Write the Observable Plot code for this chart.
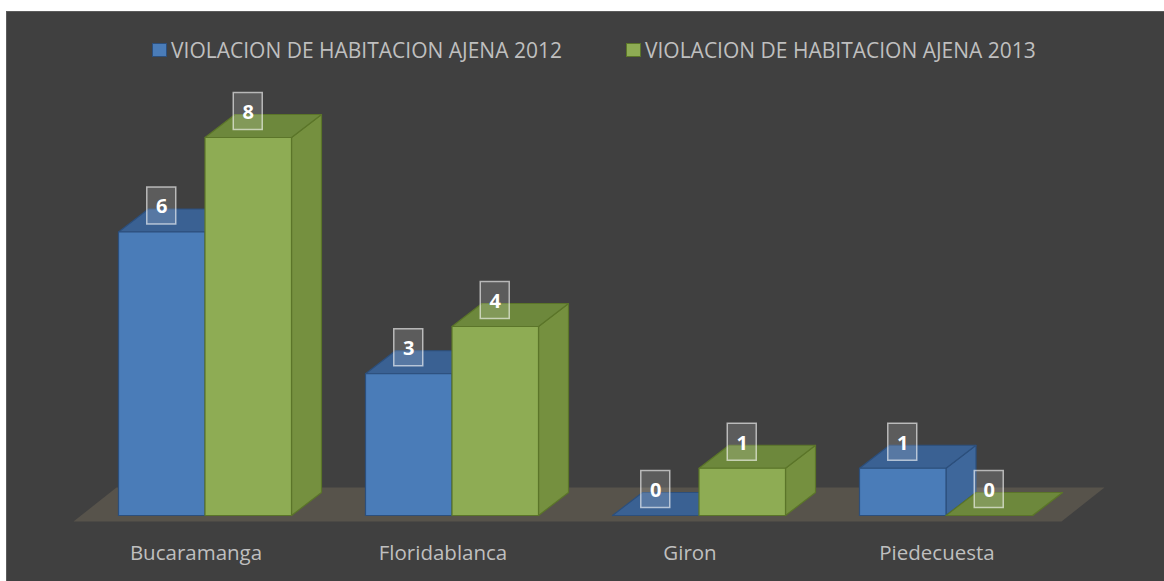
<!DOCTYPE html>
<html><head><meta charset="utf-8">
<script src="https://cdn.jsdelivr.net/npm/d3@7"></script>
<script src="https://cdn.jsdelivr.net/npm/@observablehq/plot@0.6"></script>
<style>
body{margin:0;background:#fff;}
#wrap{position:relative;width:1164px;height:581px;overflow:hidden;font-family:"Open Sans",sans-serif;}
#bg{position:absolute;left:6px;top:11px;width:1170px;height:600px;background:#404040;border:1px solid #5c5c5c;}
#chart{position:absolute;left:0;top:0;}
#legend{position:absolute;left:152px;top:36px;display:flex;gap:64px;color:#bfbfbf;font-size:21px;line-height:28px;white-space:nowrap;}
.item{display:flex;align-items:center;}
.sw{display:inline-block;width:13px;height:12px;margin-right:4px;border:1px solid;}
</style></head>
<body><div id="wrap"><div id="bg"></div><div id="chart"></div><div id="legend"></div></div>
<script>
const categories = ["Bucaramanga", "Floridablanca", "Giron", "Piedecuesta"];
const seriesNames = ["VIOLACION DE HABITACION AJENA 2012", "VIOLACION DE HABITACION AJENA 2013"];
const values2012 = [6, 3, 0, 1];
const values2013 = [8, 4, 1, 0];

// layout constants (pixels)
const W = 1164, H = 581;
const xStart = 204.5, step = 247;          // pixel centre of first category, category step
const yBase = 515, pxPerUnit = 47.25;       // y pixel of value 0, pixels per unit
const ux = 1 / step, uy = 1 / pxPerUnit;     // one pixel in data units
const barW = 86.5 * ux, depX = 30 * ux, depY = 23 * uy;

const colors = [
  {front: "#4a7cb8", top: "#3a6193", side: "#3e679b", stroke: "#2c4f7c"},
  {front: "#8eac54", top: "#6d883c", side: "#75903f", stroke: "#5b7529"}
];

const series = [values2012, values2013];
const faces = {front: [[], []], top: [[], []], side: [[], []]};
const labels = [];
series.forEach((vals, s) => {
  vals.forEach((h, i) => {
    const L = i - barW + s * barW, R = L + barW, id = `${s}-${i}`;
    const poly = (arr, pts) => pts.concat([pts[0]]).forEach(([x, y]) => arr.push({id, x, y}));
    poly(faces.side[s], [[R, 0], [R + depX, depY], [R + depX, h + depY], [R, h]]);
    poly(faces.top[s], [[L, h], [R, h], [R + depX, h + depY], [L + depX, h + depY]]);
    poly(faces.front[s], [[L, 0], [R, 0], [R, h], [L, h]]);
    labels.push({x: (L + R) / 2, y: h + depY + 3 * uy, value: h});
  });
});

const floorL = (73 - xStart) * ux, floorR = (1061 - xStart) * ux;
const floorFront = (yBase - 521) * uy, floorDX = 43 * ux, floorDY = 34 * uy;
const floor = [[floorL, floorFront], [floorR, floorFront], [floorR + floorDX, floorFront + floorDY], [floorL + floorDX, floorFront + floorDY]].map(([x, y]) => ({x, y}));

const catData = categories.map((name, i) => ({name, i}));

const marks = [Plot.line(floor, {x: "x", y: "y", fill: "#57534b", stroke: "none"})];
[0, 1].forEach(s => {
  const c = colors[s];
  marks.push(Plot.line(faces.side[s], {x: "x", y: "y", z: "id", fill: c.side, stroke: c.stroke, strokeWidth: 1.2, strokeLinejoin: "round"}));
  marks.push(Plot.line(faces.top[s], {x: "x", y: "y", z: "id", fill: c.top, stroke: c.stroke, strokeWidth: 1.2, strokeLinejoin: "round"}));
  marks.push(Plot.line(faces.front[s], {x: "x", y: "y", z: "id", fill: c.front, stroke: c.stroke, strokeWidth: 1.2, strokeLinejoin: "round"}));
});
marks.push(Plot.rect(labels, {
  x1: d => d.x - 14.5 * ux, x2: d => d.x + 14.5 * ux,
  y1: d => d.y - 18.5 * uy, y2: d => d.y + 18.5 * uy,
  fill: "white", fillOpacity: 0.15, stroke: "white", strokeOpacity: 0.6, strokeWidth: 1.5
}));
marks.push(Plot.text(labels, {x: "x", y: "y", text: "value", fill: "white", fontSize: 20, fontWeight: "bold", lineAnchor: "middle", dy: 1}));
marks.push(Plot.text(catData, {x: "i", y: () => -0.8, text: "name", fill: "#bfbfbf", fontSize: 20.5, dx: -9, lineAnchor: "middle"}));

const chart = Plot.plot({
  width: W, height: H,
  margin: 0,
  x: {domain: [0, categories.length - 1], range: [xStart, xStart + step * (categories.length - 1)], axis: null},
  y: {domain: [0, 8], range: [yBase, yBase - 8 * pxPerUnit], axis: null},
  style: {background: "transparent", fontFamily: "Open Sans"},
  marks
});
document.getElementById("chart").appendChild(chart);

const legend = document.getElementById("legend");
seriesNames.forEach((name, s) => {
  const item = document.createElement("div");
  item.className = "item";
  const sw = document.createElement("span");
  sw.className = "sw";
  sw.style.background = colors[s].front;
  sw.style.borderColor = colors[s].stroke;
  item.appendChild(sw);
  item.appendChild(document.createTextNode(name));
  legend.appendChild(item);
});
</script></body></html>
